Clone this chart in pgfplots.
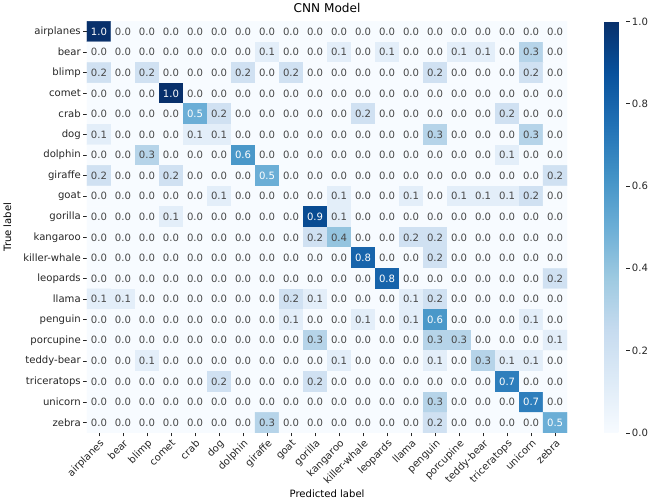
\documentclass[border=0pt]{standalone}
\usepackage{fontspec}
\setmainfont{DejaVu Sans}
\usepackage{pgfplots}
\pgfplotsset{compat=1.18}
\usepackage{pgfplotstable}
\definecolor{txt}{RGB}{38,38,38}
\newcommand{\tenpt}{\fontsize{10}{12}\selectfont}
% x = predicted (0..19), y = 19 - true index, c = value
\pgfplotstableread[row sep=\\]{
x y c\\
0 19 1.0\\ 1 19 0\\ 2 19 0\\ 3 19 0\\ 4 19 0\\ 5 19 0\\ 6 19 0\\ 7 19 0\\ 8 19 0\\ 9 19 0\\ 10 19 0\\ 11 19 0\\ 12 19 0\\ 13 19 0\\ 14 19 0\\ 15 19 0\\ 16 19 0\\ 17 19 0\\ 18 19 0\\ 19 19 0\\
0 18 0\\ 1 18 0\\ 2 18 0\\ 3 18 0\\ 4 18 0\\ 5 18 0\\ 6 18 0\\ 7 18 0.1\\ 8 18 0\\ 9 18 0\\ 10 18 0.1\\ 11 18 0\\ 12 18 0.1\\ 13 18 0\\ 14 18 0\\ 15 18 0.1\\ 16 18 0.1\\ 17 18 0\\ 18 18 0.3\\ 19 18 0\\
0 17 0.2\\ 1 17 0\\ 2 17 0.2\\ 3 17 0\\ 4 17 0\\ 5 17 0\\ 6 17 0.2\\ 7 17 0\\ 8 17 0.2\\ 9 17 0\\ 10 17 0\\ 11 17 0\\ 12 17 0\\ 13 17 0\\ 14 17 0.2\\ 15 17 0\\ 16 17 0\\ 17 17 0\\ 18 17 0.2\\ 19 17 0\\
0 16 0\\ 1 16 0\\ 2 16 0\\ 3 16 1.0\\ 4 16 0\\ 5 16 0\\ 6 16 0\\ 7 16 0\\ 8 16 0\\ 9 16 0\\ 10 16 0\\ 11 16 0\\ 12 16 0\\ 13 16 0\\ 14 16 0\\ 15 16 0\\ 16 16 0\\ 17 16 0\\ 18 16 0\\ 19 16 0\\
0 15 0\\ 1 15 0\\ 2 15 0\\ 3 15 0\\ 4 15 0.5\\ 5 15 0.2\\ 6 15 0\\ 7 15 0\\ 8 15 0\\ 9 15 0\\ 10 15 0\\ 11 15 0.2\\ 12 15 0\\ 13 15 0\\ 14 15 0\\ 15 15 0\\ 16 15 0\\ 17 15 0.2\\ 18 15 0\\ 19 15 0\\
0 14 0.1\\ 1 14 0\\ 2 14 0\\ 3 14 0\\ 4 14 0.1\\ 5 14 0.1\\ 6 14 0\\ 7 14 0\\ 8 14 0\\ 9 14 0\\ 10 14 0\\ 11 14 0\\ 12 14 0\\ 13 14 0\\ 14 14 0.3\\ 15 14 0\\ 16 14 0\\ 17 14 0\\ 18 14 0.3\\ 19 14 0\\
0 13 0\\ 1 13 0\\ 2 13 0.3\\ 3 13 0\\ 4 13 0\\ 5 13 0\\ 6 13 0.6\\ 7 13 0\\ 8 13 0\\ 9 13 0\\ 10 13 0\\ 11 13 0\\ 12 13 0\\ 13 13 0\\ 14 13 0\\ 15 13 0\\ 16 13 0\\ 17 13 0.1\\ 18 13 0\\ 19 13 0\\
0 12 0.2\\ 1 12 0\\ 2 12 0\\ 3 12 0.2\\ 4 12 0\\ 5 12 0\\ 6 12 0\\ 7 12 0.5\\ 8 12 0\\ 9 12 0\\ 10 12 0\\ 11 12 0\\ 12 12 0\\ 13 12 0\\ 14 12 0\\ 15 12 0\\ 16 12 0\\ 17 12 0\\ 18 12 0\\ 19 12 0.2\\
0 11 0\\ 1 11 0\\ 2 11 0\\ 3 11 0\\ 4 11 0\\ 5 11 0.1\\ 6 11 0\\ 7 11 0\\ 8 11 0\\ 9 11 0\\ 10 11 0.1\\ 11 11 0\\ 12 11 0\\ 13 11 0.1\\ 14 11 0\\ 15 11 0.1\\ 16 11 0.1\\ 17 11 0.1\\ 18 11 0.2\\ 19 11 0\\
0 10 0\\ 1 10 0\\ 2 10 0\\ 3 10 0.1\\ 4 10 0\\ 5 10 0\\ 6 10 0\\ 7 10 0\\ 8 10 0\\ 9 10 0.9\\ 10 10 0.1\\ 11 10 0\\ 12 10 0\\ 13 10 0\\ 14 10 0\\ 15 10 0\\ 16 10 0\\ 17 10 0\\ 18 10 0\\ 19 10 0\\
0 9 0\\ 1 9 0\\ 2 9 0\\ 3 9 0\\ 4 9 0\\ 5 9 0\\ 6 9 0\\ 7 9 0\\ 8 9 0\\ 9 9 0.2\\ 10 9 0.4\\ 11 9 0\\ 12 9 0\\ 13 9 0.2\\ 14 9 0.2\\ 15 9 0\\ 16 9 0\\ 17 9 0\\ 18 9 0\\ 19 9 0\\
0 8 0\\ 1 8 0\\ 2 8 0\\ 3 8 0\\ 4 8 0\\ 5 8 0\\ 6 8 0\\ 7 8 0\\ 8 8 0\\ 9 8 0\\ 10 8 0\\ 11 8 0.8\\ 12 8 0\\ 13 8 0\\ 14 8 0.2\\ 15 8 0\\ 16 8 0\\ 17 8 0\\ 18 8 0\\ 19 8 0\\
0 7 0\\ 1 7 0\\ 2 7 0\\ 3 7 0\\ 4 7 0\\ 5 7 0\\ 6 7 0\\ 7 7 0\\ 8 7 0\\ 9 7 0\\ 10 7 0\\ 11 7 0\\ 12 7 0.8\\ 13 7 0\\ 14 7 0\\ 15 7 0\\ 16 7 0\\ 17 7 0\\ 18 7 0\\ 19 7 0.2\\
0 6 0.1\\ 1 6 0.1\\ 2 6 0\\ 3 6 0\\ 4 6 0\\ 5 6 0\\ 6 6 0\\ 7 6 0\\ 8 6 0.2\\ 9 6 0.1\\ 10 6 0\\ 11 6 0\\ 12 6 0\\ 13 6 0.1\\ 14 6 0.2\\ 15 6 0\\ 16 6 0\\ 17 6 0\\ 18 6 0\\ 19 6 0\\
0 5 0\\ 1 5 0\\ 2 5 0\\ 3 5 0\\ 4 5 0\\ 5 5 0\\ 6 5 0\\ 7 5 0\\ 8 5 0.1\\ 9 5 0\\ 10 5 0\\ 11 5 0.1\\ 12 5 0\\ 13 5 0.1\\ 14 5 0.6\\ 15 5 0\\ 16 5 0\\ 17 5 0\\ 18 5 0.1\\ 19 5 0\\
0 4 0\\ 1 4 0\\ 2 4 0\\ 3 4 0\\ 4 4 0\\ 5 4 0\\ 6 4 0\\ 7 4 0\\ 8 4 0\\ 9 4 0.3\\ 10 4 0\\ 11 4 0\\ 12 4 0\\ 13 4 0\\ 14 4 0.3\\ 15 4 0.3\\ 16 4 0\\ 17 4 0\\ 18 4 0\\ 19 4 0.1\\
0 3 0\\ 1 3 0\\ 2 3 0.1\\ 3 3 0\\ 4 3 0\\ 5 3 0\\ 6 3 0\\ 7 3 0\\ 8 3 0\\ 9 3 0\\ 10 3 0.1\\ 11 3 0\\ 12 3 0\\ 13 3 0\\ 14 3 0.1\\ 15 3 0\\ 16 3 0.3\\ 17 3 0.1\\ 18 3 0.1\\ 19 3 0\\
0 2 0\\ 1 2 0\\ 2 2 0\\ 3 2 0\\ 4 2 0\\ 5 2 0.2\\ 6 2 0\\ 7 2 0\\ 8 2 0\\ 9 2 0.2\\ 10 2 0\\ 11 2 0\\ 12 2 0\\ 13 2 0\\ 14 2 0\\ 15 2 0\\ 16 2 0\\ 17 2 0.7\\ 18 2 0\\ 19 2 0\\
0 1 0\\ 1 1 0\\ 2 1 0\\ 3 1 0\\ 4 1 0\\ 5 1 0\\ 6 1 0\\ 7 1 0\\ 8 1 0\\ 9 1 0\\ 10 1 0\\ 11 1 0\\ 12 1 0\\ 13 1 0\\ 14 1 0.3\\ 15 1 0\\ 16 1 0\\ 17 1 0\\ 18 1 0.7\\ 19 1 0\\
0 0 0\\ 1 0 0\\ 2 0 0\\ 3 0 0\\ 4 0 0\\ 5 0 0\\ 6 0 0\\ 7 0 0.3\\ 8 0 0\\ 9 0 0\\ 10 0 0\\ 11 0 0\\ 12 0 0\\ 13 0 0\\ 14 0 0.2\\ 15 0 0\\ 16 0 0\\ 17 0 0\\ 18 0 0\\ 19 0 0.5\\
}\cm

\begin{document}
\begin{tikzpicture}
\begin{axis}[
  scale only axis, width=476pt, height=408pt,
  xmin=-0.5, xmax=19.5, ymin=-0.5, ymax=19.5,
  xtick={0,...,19}, ytick={0,...,19},
  xticklabels={airplanes,bear,blimp,comet,crab,dog,dolphin,giraffe,goat,gorilla,kangaroo,killer-whale,leopards,llama,penguin,porcupine,teddy-bear,triceratops,unicorn,zebra},
  yticklabels={zebra,unicorn,triceratops,teddy-bear,porcupine,penguin,llama,leopards,killer-whale,kangaroo,gorilla,goat,giraffe,dolphin,dog,crab,comet,blimp,bear,airplanes},
  xticklabel style={font=\tenpt, text=txt, rotate=45, anchor=north east, inner sep=1.5pt},
  yticklabel style={font=\tenpt, text=txt, inner sep=2.5pt},
  tick align=outside, major tick length=3.5pt,
  tick style={txt, line width=0.7pt},
  xtick pos=left, ytick pos=left,
  axis line style={draw=none},
  xlabel style={font=\tenpt, yshift=1pt},
  ylabel style={font=\tenpt, yshift=6pt},
  title style={font=\fontsize{12}{14}\selectfont, yshift=-1pt},
  title={CNN Model}, xlabel={Predicted label}, ylabel={True label},
  colormap={blues}{rgb255=(247,251,255) rgb255=(222,235,247) rgb255=(198,219,239) rgb255=(158,202,225) rgb255=(107,174,214) rgb255=(66,146,198) rgb255=(33,113,181) rgb255=(8,81,156) rgb255=(8,48,107)},
  point meta min=0, point meta max=1,
  colorbar,
  colorbar style={
    width=22pt, at={(parent axis.north east)}, anchor=north west, xshift=28pt,
    ytick={0,0.2,0.4,0.6,0.8,1.0},
    yticklabel style={font=\tenpt, text=txt, inner sep=2pt, /pgf/number format/.cd, fixed, fixed zerofill, precision=1, assume math mode=true},
    axis line style={draw=none},
    tick align=outside, major tick length=3.5pt,
    tick style={txt, line width=0.7pt},
    ytick pos=right,
  },
  /pgf/number format/assume math mode=true,
]
\addplot[matrix plot*, mesh/cols=20, point meta=explicit] table[x=x, y=y, meta=c] {\cm};
\addplot[draw=none, mark=none, point meta=explicit,
  restrict expr to domain={\thisrow{c}}{-1:0.45},
  nodes near coords={\pgfmathprintnumber[fixed,fixed zerofill,precision=1,assume math mode=true]{\pgfplotspointmeta}},
  every node near coord/.append style={anchor=center, font=\tenpt, text=txt!85!white}]
  table[x=x, y=y, meta=c] {\cm};
\addplot[draw=none, mark=none, point meta=explicit,
  restrict expr to domain={\thisrow{c}}{0.45:2},
  nodes near coords={\pgfmathprintnumber[fixed,fixed zerofill,precision=1,assume math mode=true]{\pgfplotspointmeta}},
  every node near coord/.append style={anchor=center, font=\tenpt, text=white}]
  table[x=x, y=y, meta=c] {\cm};
\end{axis}
\end{tikzpicture}
\end{document}
